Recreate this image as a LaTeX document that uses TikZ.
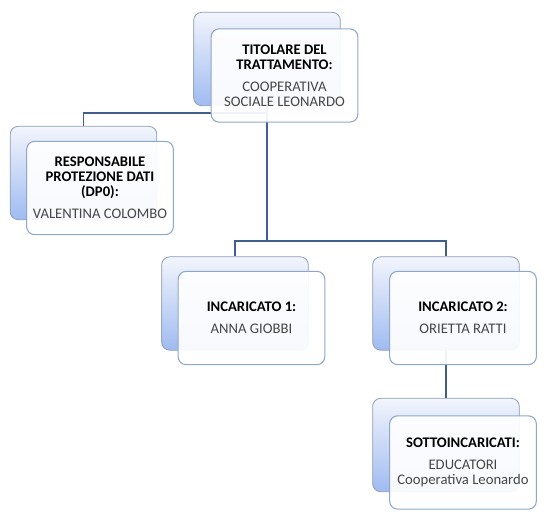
\documentclass[tikz,border=0pt]{standalone}
\usepackage{fontspec}
\setmainfont{Carlito}
\usetikzlibrary{backgrounds}
\definecolor{linkblue}{HTML}{3F5E8E}
\definecolor{backline}{HTML}{8D9DB8}
\definecolor{backtop}{HTML}{F2F5FC}
\definecolor{backbot}{HTML}{A0BBF1}
\definecolor{frontline}{HTML}{8FA7C9}
\newcommand{\hd}[1]{\textbf{\color{black}#1}}

\begin{document}
\begin{tikzpicture}[x=0.75pt, y=-0.75pt,
  backbox/.style={draw=backline, line width=0.6pt, rounded corners=6pt,
    top color=backtop, bottom color=backbot,
    minimum width=110pt, minimum height=70pt},
  frontbox/.style={draw=frontline, line width=0.8pt, rounded corners=6pt,
    fill=white, fill opacity=0.92, text opacity=1,
    minimum width=110pt, minimum height=70pt, align=center,
    font=\fontsize{11}{11.25}\selectfont, text=black!72},
  link/.style={draw=linkblue, line width=1.4pt}]

  \useasboundingbox (0,0) rectangle (549,520);

  \node[backbox] (tit-b) at (267,59) {};
  \node[frontbox] (tit) at (284.5,75.5)
    {\hd{TITOLARE DEL}\\\hd{TRATTAMENTO:}\\[5pt]COOPERATIVA\\SOCIALE LEONARDO};

  \node[backbox] (resp-b) at (83.5,173) {};
  \node[frontbox] (resp) at (100,188)
    {\hd{RESPONSABILE}\\\hd{PROTEZIONE DATI}\\\hd{(DP0):}\\[5pt]VALENTINA COLOMBO};

  \node[backbox] (inc1-b) at (235,303.5) {};
  \node[frontbox] (inc1) at (251.5,318)
    {\hd{INCARICATO 1:}\\[5pt]ANNA GIOBBI};

  \node[backbox] (inc2-b) at (446,303.5) {};
  \node[frontbox] (inc2) at (463,318)
    {\hd{INCARICATO 2:}\\[5pt]ORIETTA RATTI};

  \node[backbox] (sotto-b) at (446,445) {};
  \node[frontbox] (sotto) at (463,462.5)
    {\hd{SOTTOINCARICATI:}\\[5pt]EDUCATORI\\Cooperativa Leonardo};

  \begin{scope}[on background layer]
    \coordinate (bus) at (267,241);
    \coordinate (side) at (267,113);
    \draw[link] (tit-b.center) -- (bus);
    \draw[link] (side) -| (resp-b.north);
    \draw[link] (bus) -| (inc1-b.north);
    \draw[link] (bus) -| (inc2-b.north);
    \draw[link] (inc2-b.center) -- (sotto-b.north);
  \end{scope}
\end{tikzpicture}
\end{document}
